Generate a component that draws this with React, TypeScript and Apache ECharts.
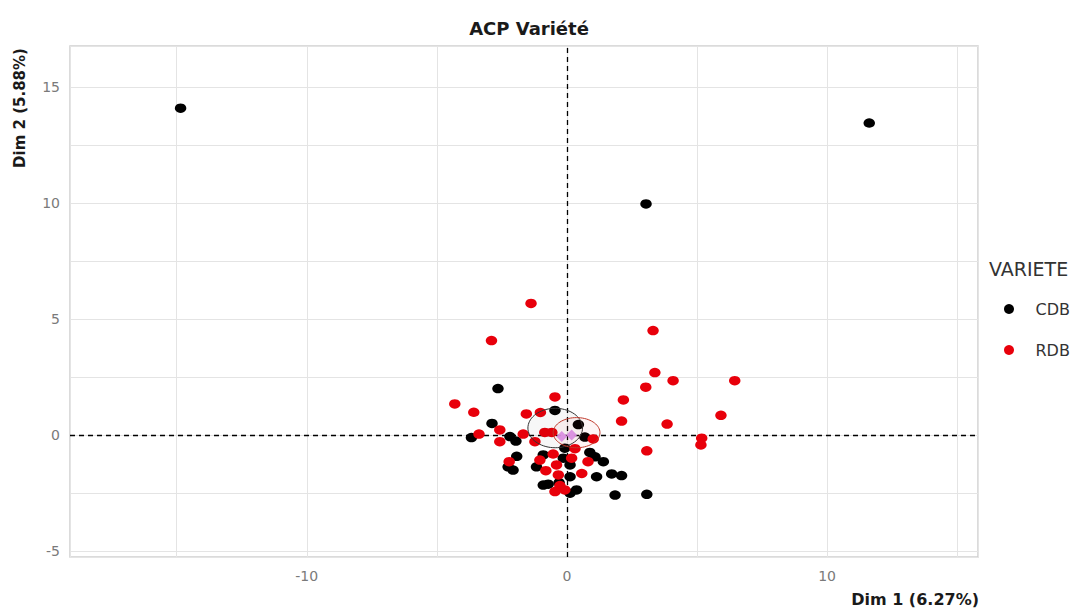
import React, { useEffect, useRef } from "react";
import * as echarts from "echarts";

// ---- data ----
const CDB: [number, number][] = [
  [-14.85, 14.09], [11.62, 13.45], [3.04, 9.96], [-2.65, 2.0], [-0.46, 1.06],
  [-2.88, 0.5], [0.44, 0.45], [-3.67, -0.11], [-2.19, -0.07], [-1.96, -0.26],
  [0.69, -0.09], [-0.08, -0.57], [-0.91, -0.86], [-1.93, -0.92], [0.88, -0.75],
  [1.08, -0.94], [1.4, -1.15], [-0.14, -1.0], [-2.26, -1.37], [-2.07, -1.51],
  [-1.17, -1.37], [0.12, -1.29], [0.12, -1.8], [1.14, -1.8], [1.72, -1.68],
  [2.1, -1.75], [-0.91, -2.16], [-0.72, -2.12], [0.37, -2.37], [0.12, -2.51],
  [1.85, -2.59], [3.07, -2.56], [-0.3, -2.05],
];

const RDB: [number, number][] = [
  [-1.38, 5.67], [-2.9, 4.07], [3.31, 4.5], [3.38, 2.69], [4.08, 2.34],
  [3.03, 2.06], [6.45, 2.34], [-0.46, 1.64], [2.17, 1.51], [-4.31, 1.34],
  [-3.58, 0.98], [-1.56, 0.91], [-1.02, 0.97], [5.92, 0.85], [2.1, 0.6],
  [3.85, 0.47], [-0.85, 0.11], [-0.58, 0.11], [-3.38, 0.04], [-2.58, 0.22],
  [-2.58, -0.29], [-1.68, 0.04], [-1.23, -0.29], [1.01, -0.17], [5.18, -0.14],
  [5.15, -0.43], [3.07, -0.68], [-0.53, -0.82], [0.31, -0.59], [0.81, -1.15],
  [-2.22, -1.15], [-0.81, -1.54], [0.18, -1.0], [-1.04, -1.08], [-0.4, -1.29],
  [-0.33, -1.72], [0.57, -1.66], [-0.27, -2.18], [-0.08, -2.37], [-0.46, -2.44],
];

// group centroids
const centroids: [number, number][] = [[-0.2, -0.07], [0.18, 0.0]];
// confidence ellipses: [cx, cy, rx, ry]
const ellipseCDB = [-0.45, 0.3, 1.05, 0.85];
const ellipseRDB = [0.37, 0.1, 0.9, 0.65];

const xRange = [-19.1, 15.8];
const yRange = [-5.26, 16.77];

const TITLE = "ACP Variété";
const X_NAME = "Dim 1 (6.27%)";
const Y_NAME = "Dim 2 (5.88%)";
const LEGEND_TITLE = "VARIETE";

const FONT = "DejaVu Sans, Liberation Sans, Arial, sans-serif";

function ellipseRender(stroke: string, fill: string) {
  return (params: any, api: any) => {
    const cx = api.value(0), cy = api.value(1), rx = api.value(2), ry = api.value(3);
    const pts: number[][] = [];
    for (let k = 0; k <= 72; k++) {
      const t = (k / 72) * Math.PI * 2;
      pts.push(api.coord([cx + rx * Math.cos(t), cy + ry * Math.sin(t)]));
    }
    return {
      type: "polygon",
      shape: { points: pts },
      style: { fill, stroke, lineWidth: 1 },
    };
  };
}

export default function App() {
  const ref = useRef<HTMLDivElement>(null);
  useEffect(() => {
    document.body.style.margin = "0";
    const chart = echarts.init(ref.current!, null, { renderer: "svg" });
    const isMult = (v: number, m: number) => Math.abs(v / m - Math.round(v / m)) < 1e-6;
    chart.setOption({
      animation: false,
      backgroundColor: "#ffffff",
      textStyle: { fontFamily: FONT },
      title: [
        {
          text: TITLE,
          left: 524,
          top: 14,
          textAlign: "center",
          textStyle: { fontSize: 18, fontWeight: "bold", color: "#1a1a1a", fontFamily: FONT },
        },
        {
          text: LEGEND_TITLE,
          left: 984,
          top: 254,
          textStyle: { fontSize: 19, fontWeight: "normal", color: "#333", fontFamily: FONT },
        },
      ],
      legend: {
        data: ["CDB", "RDB"],
        orient: "vertical",
        left: 999,
        top: 296,
        itemWidth: 11,
        itemHeight: 10,
        itemGap: 25,
        icon: "circle",
        textStyle: { fontSize: 16, color: "#333", fontFamily: FONT, padding: [0, 0, 0, 16] },
      },
      grid: {
        left: 70,
        top: 46,
        width: 908,
        height: 511,
        show: true,
        borderColor: "#cfcfcf",
        borderWidth: 1.5,
        backgroundColor: "#ffffff",
      },
      xAxis: {
        type: "value",
        min: xRange[0],
        max: xRange[1],
        minInterval: 5,
        maxInterval: 5,
        axisLine: { show: false },
        axisTick: { show: false },
        axisLabel: {
          fontSize: 14,
          color: "#7a7a7a",
          margin: 12,
          fontFamily: FONT,
          formatter: (v: number) => (isMult(v, 10) ? String(Math.round(v)) : ""),
        },
        splitLine: { show: true, lineStyle: { color: "#e4e4e4", width: 1 } },
      },
      yAxis: {
        type: "value",
        min: yRange[0],
        max: yRange[1],
        minInterval: 2.5,
        maxInterval: 2.5,
        axisLine: { show: false },
        axisTick: { show: false },
        axisLabel: {
          fontSize: 14,
          color: "#7a7a7a",
          margin: 10,
          fontFamily: FONT,
          formatter: (v: number) => (isMult(v, 5) ? String(Math.round(v)) : ""),
        },
        splitLine: { show: true, lineStyle: { color: "#e4e4e4", width: 1 } },
      },
      graphic: [
        {
          type: "text",
          x: 20,
          y: 108,
          rotation: Math.PI / 2,
          style: {
            text: Y_NAME,
            align: "center",
            verticalAlign: "middle",
            font: "bold 15px " + FONT,
            fill: "#1a1a1a",
          },
        },
        {
          type: "text",
          x: 979,
          y: 599,
          style: {
            text: X_NAME,
            align: "right",
            verticalAlign: "middle",
            font: "bold 16px " + FONT,
            fill: "#1a1a1a",
          },
        },
      ],
      series: [
        {
          name: "CDB",
          type: "scatter",
          data: CDB,
          symbolSize: [11.5, 9.5],
          itemStyle: { color: "#000000", opacity: 1 },
          z: 3,
          markLine: {
            silent: true,
            symbol: "none",
            label: { show: false },
            lineStyle: { color: "#000", type: [5, 4], width: 1.3 },
            data: [{ xAxis: 0 }, { yAxis: 0 }],
            z: 2,
          },
        },
        {
          name: "RDB",
          type: "scatter",
          data: RDB,
          symbolSize: [11.5, 9.5],
          itemStyle: { color: "#e8000b", opacity: 1 },
          z: 3,
        },
        {
          name: "ellipseCDB",
          type: "custom",
          data: [ellipseCDB],
          renderItem: ellipseRender("#333333", "rgba(0,0,0,0.03)"),
          encode: { x: 0, y: 1 },
          silent: true,
          z: 4,
        },
        {
          name: "ellipseRDB",
          type: "custom",
          data: [ellipseRDB],
          renderItem: ellipseRender("#c0392b", "rgba(230,0,11,0.04)"),
          encode: { x: 0, y: 1 },
          silent: true,
          z: 4,
        },
        {
          name: "centroid",
          type: "scatter",
          data: centroids,
          symbol: "diamond",
          symbolSize: 11,
          itemStyle: { color: "#d98fe0", opacity: 0.95 },
          z: 5,
        },
      ],
    });
    return () => chart.dispose();
  }, []);
  return <div ref={ref} style={{ width: 1085, height: 612 }} />;
}
